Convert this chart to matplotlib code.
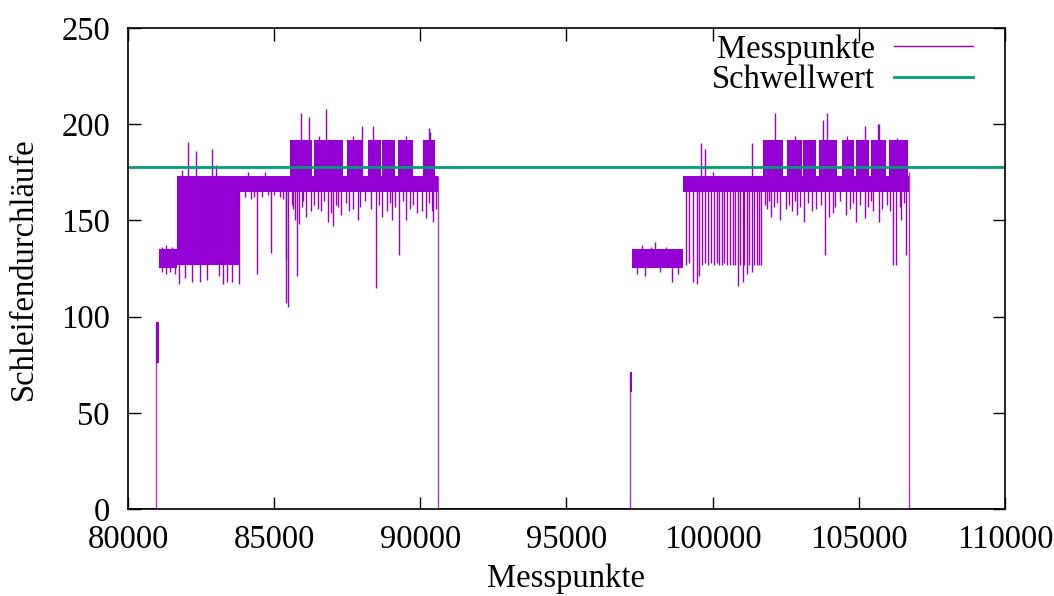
import matplotlib
matplotlib.use("Agg")
from matplotlib import pyplot as plt

plt.rcParams['font.family'] = ['Liberation Serif', 'DejaVu Serif']

lila = '#9400d3'
gruen = '#009e73'

# Schwellwert
schwelle = 178

# Ruhephasen (Wert 0)
null_x0 = [80000, 90620, 106730]
null_x1 = [80960, 97170, 110000]

# Flanken am Anfang/Ende der Lastphasen
flanke_x = [80960, 90620, 97170, 106730]
flanke_y = [96, 173, 71, 175]

# dichte Baender: Start, Ende, unten, oben
band_x0 = [80960, 81070, 81690, 83830, 85540, 97170, 97250, 98990, 101700]
band_x1 = [81070, 81690, 83830, 85540, 90620, 97250, 98990, 101700, 106730]
band_lo = [76, 125, 127, 165, 165, 61, 125, 165, 165]
band_hi = [97, 135, 173, 173, 173, 71, 135, 173, 173]

# obere Stufe (ca. 173-192)
oben_x0 = [85540, 86374, 86800, 87480, 88221, 88700, 89248, 90104,
           101735, 102557, 103100, 103652, 104439, 104900, 105408, 106034]
oben_x1 = [86283, 86760, 87366, 88050, 88650, 89134, 89762, 90503,
           102420, 103050, 103538, 104268, 104850, 105362, 105921, 106696]
oben_lo = 173
oben_hi = 192

# Stufe ~130: Ausreisser nach oben / unten
stufe130_hoch_x = [81150, 81300, 81500, 97600, 97900, 98030, 98400]
stufe130_hoch_y = [136, 137, 136, 137, 136, 139, 136]
stufe130_tief_x = [81150, 81300, 81450, 81600, 97400, 97700, 98200, 98600, 98800]
stufe130_tief_y = [123, 122, 123, 122, 122, 121, 123, 118, 122]

# Stufe ~170: Ausreisser nach oben
spitze_x = [82040, 82330, 82890, 83010, 81860, 85920, 86190, 86760, 88010,
            88370, 90300, 90330, 99600, 99750, 100020, 101330, 102120,
            103770, 103910, 105210, 105650, 105690, 84100, 84700,
            86550, 87700, 89500, 102800, 104600, 106300]
spitze_y = [191, 186, 187, 179, 176, 206, 204, 208, 199,
            199, 198, 196, 190, 187, 175, 190, 206,
            202, 206, 199, 200, 200, 175, 175,
            194, 194, 194, 194, 194, 193]

# Stufe ~170: Einbrueche nach unten
tief_x = [81760, 82180, 82460, 83110, 83240, 83380, 83550, 83810, 81950, 82700,
          84410, 84880, 85420, 85460, 85400, 85770, 85700, 85850,
          86490, 86850, 87020, 87860, 88480, 89020, 89270, 90450, 90400, 86100,
          86600, 87300, 87700, 88700, 89500, 89900, 90200,
          85600, 85650, 85950, 86000, 86250, 86350, 86700, 86950, 87100,
          87200, 87450, 87550, 87950, 88100, 88300, 88600, 88850, 88950,
          89150, 89400, 89650, 89750, 90050, 90300, 90550,
          84000, 84200, 84600, 85000, 85200, 85300, 84300, 84800,
          99090, 99204, 99319, 99456, 99547, 99627, 99740, 99854, 99946,
          100048, 100162, 100230, 100322, 100390, 100482, 100596, 100687,
          100767, 100880, 100937, 101029, 101074, 101166, 101245, 101337,
          101417, 101508, 101599, 101667,
          101850, 102000, 102305, 102700, 103130, 103400, 103850, 103980,
          104560, 104905, 105210, 105500, 105690, 106160, 106270, 106620,
          106450, 104100, 102900,
          101780, 101920, 102100, 102200, 102500, 102600, 102800, 103000,
          103250, 103550, 103700, 104200, 104350, 104700, 104800, 105050,
          105300, 105400, 105800, 105950, 106050, 106400, 106550]
tief_y = [117, 118, 118, 121, 117, 118, 118, 117, 120, 119,
          122, 133, 107, 105, 130, 121, 150, 148,
          156, 149, 147, 150, 115, 150, 132, 149, 155, 152,
          155, 153, 156, 152, 150, 154, 151,
          158, 156, 157, 160, 155, 158, 160, 154, 158,
          157, 159, 155, 157, 160, 156, 158, 155, 159,
          157, 160, 156, 158, 155, 159, 156,
          162, 161, 162, 163, 162, 161, 162, 163,
          127, 128, 118, 117, 121, 127, 128, 127, 128,
          127, 128, 127, 127, 128, 127, 127, 127,
          127, 116, 127, 118, 127, 122, 127, 123,
          127, 127, 127, 127,
          156, 152, 150, 155, 149, 155, 132, 152,
          153, 149, 151, 155, 149, 127, 127, 132,
          150, 154, 153,
          158, 160, 157, 159, 156, 158, 160, 157,
          159, 156, 158, 157, 160, 156, 159, 158,
          157, 160, 156, 158, 155, 157, 159]

fig, ax = plt.subplots(figsize=(10.54, 5.96), dpi=100)
fig.subplots_adjust(left=0.1214, right=0.9535, bottom=0.146, top=0.953)

# Messpunkte
ax.hlines([0] * len(null_x0), null_x0, null_x1, color=lila, lw=1.2)
ax.vlines(flanke_x, [0] * len(flanke_x), flanke_y, color=lila, lw=1.0, alpha=0.8)
for x0, x1, lo, hi in zip(band_x0, band_x1, band_lo, band_hi):
    ax.fill_between([x0, x1], lo, hi, color=lila, lw=0)
for x0, x1 in zip(oben_x0, oben_x1):
    ax.fill_between([x0, x1], oben_lo, oben_hi, color=lila, lw=0)
ax.vlines(stufe130_hoch_x, 130, stufe130_hoch_y, color=lila, lw=1.0)
ax.vlines(stufe130_tief_x, stufe130_tief_y, 130, color=lila, lw=1.0)
ax.vlines(spitze_x, 170, spitze_y, color=lila, lw=1.0)
ax.vlines(tief_x, tief_y, 167, color=lila, lw=1.0)
ax.plot([], [], color=lila, lw=1.0, label='Messpunkte')

# Schwellwert
ax.axhline(schwelle, color=gruen, lw=2.0, label='Schwellwert')

ax.set_xlim(80000, 110000)
ax.set_ylim(0, 250)
ax.set_xticks(range(80000, 110001, 5000))
ax.set_yticks(range(0, 251, 50))
ax.tick_params(direction='in', length=9, width=1, top=True, right=True,
               labelsize=23.5)
ax.tick_params(axis='x', pad=11)
ax.tick_params(axis='y', pad=13)
for s in ax.spines.values():
    s.set_linewidth(1.2)

ax.set_xlabel('Messpunkte', fontsize=23.5, labelpad=6)
ax.set_ylabel('Schleifendurchläufe', fontsize=23.5, labelpad=16)

ax.legend(loc='upper right', frameon=False, markerfirst=False, fontsize=23.5,
          handlelength=2.4, handletextpad=0.6, labelspacing=0.0,
          borderaxespad=0.0, bbox_to_anchor=(0.978, 1.014))

plt.savefig('out.png', dpi=100)
